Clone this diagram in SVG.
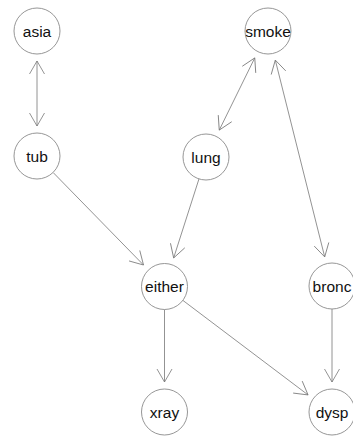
<svg xmlns="http://www.w3.org/2000/svg" width="353" height="437" viewBox="0 0 353 437">
  <style>
    .node circle { fill: #ffffff; stroke: #8a8a8a; stroke-width: 0.9; }
    .node text { font-family: "Liberation Sans", Arial, sans-serif; font-size: 15.5px; fill: #111111; text-anchor: middle; }
    .edge { fill: none; stroke: #777777; stroke-width: 0.8; }
    .uni { marker-end: url(#arrow); }
    .bi { marker-start: url(#arrow); marker-end: url(#arrow); }
  </style>
  <defs>
    <marker id="arrow" markerUnits="userSpaceOnUse" orient="auto-start-reverse"
            viewBox="-16 -10 20 20" markerWidth="20" markerHeight="20" refX="0" refY="0" overflow="visible">
      <path d="M-13,-7.5 L0,0 L-13,7.5" fill="none" stroke="#777777" stroke-width="0.8"/>
    </marker>
  </defs>
  <rect width="353" height="437" fill="#ffffff"/>

  <g id="edges">
    <line class="edge bi" x1="37" y1="61" x2="37" y2="126"/>
    <line class="edge bi" x1="254.75" y1="57.9" x2="219.25" y2="130.1"/>
    <line class="edge bi" x1="275.3" y1="60.1" x2="324.7" y2="256.9"/>
    <line class="edge uni" x1="53.07" y1="172.45" x2="143.5" y2="265"/>
    <line class="edge uni" x1="198.98" y1="178.9" x2="173.66" y2="257.93"/>
    <line class="edge uni" x1="164.5" y1="309.5" x2="164.5" y2="382"/>
    <line class="edge uni" x1="182.85" y1="300.36" x2="308.06" y2="394.92"/>
    <line class="edge uni" x1="332" y1="309" x2="332" y2="382"/>
  </g>

  <g id="asia" class="node"><circle cx="37" cy="31" r="23"/><text x="37" y="36.5">asia</text></g>
  <g id="smoke" class="node"><circle cx="268" cy="31" r="23"/><text x="268" y="36.5">smoke</text></g>
  <g id="tub" class="node"><circle cx="37" cy="156" r="23"/><text x="37" y="161.5">tub</text></g>
  <g id="lung" class="node"><circle cx="206" cy="157" r="23"/><text x="206" y="162.5">lung</text></g>
  <g id="either" class="node"><circle cx="164.5" cy="286.5" r="23"/><text x="164.5" y="292">either</text></g>
  <g id="bronc" class="node"><circle cx="332" cy="286" r="23"/><text x="332" y="291.5">bronc</text></g>
  <g id="xray" class="node"><circle cx="164.5" cy="412" r="23"/><text x="164.5" y="417.5">xray</text></g>
  <g id="dysp" class="node"><circle cx="332" cy="412" r="23"/><text x="332" y="417.5">dysp</text></g>
</svg>
